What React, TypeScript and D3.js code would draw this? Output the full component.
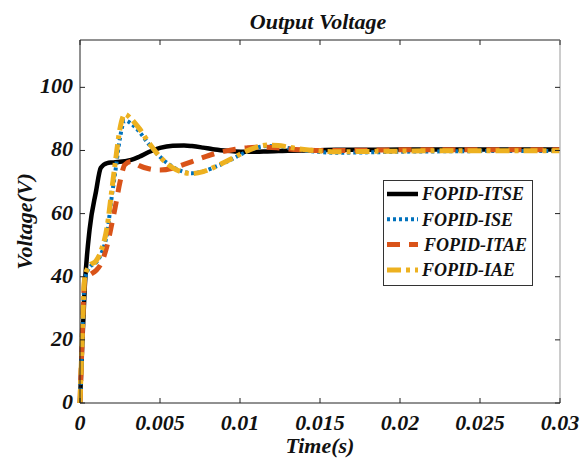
import React, { useEffect, useRef } from 'react'
import * as d3 from 'd3'

// time grid (s)
const timeS = [0, 0.0001, 0.0003, 0.0006, 0.001, 0.0013, 0.0017, 0.002, 0.0022, 0.0025, 0.0028, 0.0032, 0.0037, 0.0043, 0.005, 0.0058, 0.0065, 0.007, 0.0077, 0.0083, 0.009, 0.0097, 0.0104, 0.011, 0.0117, 0.0124, 0.013, 0.014, 0.015, 0.016, 0.018, 0.02, 0.022, 0.025, 0.028, 0.03]

const itse = [0, 14, 37, 55, 67, 74.5, 76, 76.2, 76.3, 76.4, 76.6, 77, 78, 79.5, 80.8, 81.5, 81.6, 81.4, 80.9, 80.4, 80, 79.7, 79.6, 79.6, 79.7, 79.8, 79.9, 80, 80.1, 80.2, 80.2, 80.3, 80.3, 80.3, 80.3, 80.3]
const ise = [0, 15, 39, 43, 44.5, 47, 54, 66, 73, 84, 89.5, 88.5, 86, 82, 78, 74.8, 73.2, 72.8, 73.4, 74.5, 76, 77.8, 79.6, 80.8, 81.4, 81.3, 80.8, 80, 79.5, 79.3, 79.4, 79.6, 79.7, 79.8, 79.8, 79.8]
const itae = [0, 15, 39, 40.5, 42, 44, 50, 57, 62, 70, 75.5, 76.5, 75.2, 74.2, 73.8, 74.4, 75.6, 76.5, 77.8, 78.8, 79.7, 80.4, 80.8, 81, 81, 80.8, 80.5, 80.2, 80, 80, 80.1, 80.2, 80.2, 80.2, 80.2, 80.2]
const iae = [0, 15, 40, 43.5, 45, 48, 56, 68, 76, 87, 91.5, 90, 87, 82.5, 78, 74.5, 73, 72.7, 73.3, 74.5, 76.2, 78, 79.8, 81, 81.7, 81.6, 81.1, 80.3, 79.8, 79.6, 79.7, 79.8, 79.9, 79.9, 79.9, 79.9]

const seriesNames = ['FOPID-ITSE', 'FOPID-ISE', 'FOPID-ITAE', 'FOPID-IAE']
const xTicks = [0, 0.005, 0.01, 0.015, 0.02, 0.025, 0.03]
const xTickLabels = ['0', '0.005', '0.01', '0.015', '0.02', '0.025', '0.03']
const yTicks = [0, 20, 40, 60, 80, 100]

const App = () => {
  const ref = useRef(null)

  useEffect(() => {
    document.body.style.margin = '0'
    draw()
  }, [])

  const draw = () => {
    const root = d3.select(ref.current)
    root.selectAll('*').remove()
    const W = 587, H = 460
    const L = 80, R = 560, T = 40, B = 403
    const font = '"Liberation Serif", "Times New Roman", serif'

    const svg = root.append('svg')
      .attr('width', W).attr('height', H)
      .style('display', 'block')
      .style('background', '#fff')

    const x = d3.scaleLinear().domain([0, 0.03]).range([L, R])
    const y = d3.scaleLinear().domain([0, 115]).range([B, T])

    svg.append('rect').attr('x', 0).attr('y', 0).attr('width', W).attr('height', H).attr('fill', '#fff')

    const styles = [
      { color: '#000000', width: 4.5, dash: null, values: itse },
      { color: '#0072BD', width: 4, dash: '3,3', values: ise },
      { color: '#D95319', width: 5, dash: '13,9', values: itae },
      { color: '#EDB120', width: 5, dash: '14,5,4,5', values: iae },
    ]

    const plot = svg.append('g')
    styles.forEach(s => {
      const line = d3.line<number>()
        .x((d, i) => x(timeS[i]))
        .y(d => y(d))
        .curve(d3.curveMonotoneX)
      plot.append('path')
        .attr('d', line(s.values))
        .attr('fill', 'none')
        .attr('stroke', s.color)
        .attr('stroke-width', s.width)
        .attr('stroke-dasharray', s.dash)
    })

    // box
    svg.append('path')
      .attr('d', `M${L},${T}H${R}`)
      .attr('stroke', '#222').attr('stroke-width', 1)
    svg.append('path')
      .attr('d', `M${R},${T}V${B}`)
      .attr('stroke', '#bbb').attr('stroke-width', 1.5)
    svg.append('path')
      .attr('d', `M${L},${T}V${B}H${R}`)
      .attr('fill', 'none')
      .attr('stroke', '#222').attr('stroke-width', 1)

    // ticks
    const tk = svg.append('g').attr('stroke', '#222').attr('stroke-width', 1)
    xTicks.forEach(t => {
      tk.append('line').attr('x1', x(t)).attr('x2', x(t)).attr('y1', B).attr('y2', B - 5)
      tk.append('line').attr('x1', x(t)).attr('x2', x(t)).attr('y1', T).attr('y2', T + 5)
    })
    yTicks.forEach(t => {
      tk.append('line').attr('x1', L).attr('x2', L + 5).attr('y1', y(t)).attr('y2', y(t))
      tk.append('line').attr('x1', R).attr('x2', R - 5).attr('y1', y(t)).attr('y2', y(t))
    })

    const txt = svg.append('g')
      .attr('font-family', font)
      .attr('font-weight', 'bold')
      .attr('font-style', 'italic')
      .attr('fill', '#111')

    xTicks.forEach((t, i) => {
      txt.append('text')
        .attr('x', x(t)).attr('y', 430)
        .attr('text-anchor', 'middle')
        .attr('font-size', 22)
        .text(xTickLabels[i])
    })
    yTicks.forEach(t => {
      txt.append('text')
        .attr('x', L - 7).attr('y', y(t) + 6)
        .attr('text-anchor', 'end')
        .attr('font-size', 22)
        .text(t)
    })

    txt.append('text')
      .attr('x', (L + R) / 2).attr('y', 453)
      .attr('text-anchor', 'middle')
      .attr('font-size', 22)
      .text('Time(s)')
    txt.append('text')
      .attr('transform', `translate(32,${(T + B) / 2}) rotate(-90)`)
      .attr('text-anchor', 'middle')
      .attr('font-size', 22)
      .text('Voltage(V)')
    txt.append('text')
      .attr('x', 318).attr('y', 29)
      .attr('text-anchor', 'middle')
      .attr('font-size', 22)
      .text('Output Voltage')

    // legend
    const lg = svg.append('g')
    lg.append('rect')
      .attr('x', 383.5).attr('y', 180.5).attr('width', 149).attr('height', 105)
      .attr('fill', '#fff').attr('stroke', '#333').attr('stroke-width', 1)
    styles.forEach((s, i) => {
      const yy = 194 + i * 25.3
      lg.append('line')
        .attr('x1', 387).attr('x2', 418).attr('y1', yy).attr('y2', yy)
        .attr('stroke', s.color).attr('stroke-width', s.width)
        .attr('stroke-dasharray', s.dash)
      lg.append('text')
        .attr('x', i === 2 ? 424 : 422).attr('y', yy)
        .attr('dy', '0.35em')
        .attr('font-family', font).attr('font-weight', 'bold').attr('font-style', 'italic')
        .attr('font-size', 18)
        .attr('fill', '#111')
        .text(seriesNames[i])
    })
  }

  return (
    <div ref={ref}></div>
  )
}

export default App
